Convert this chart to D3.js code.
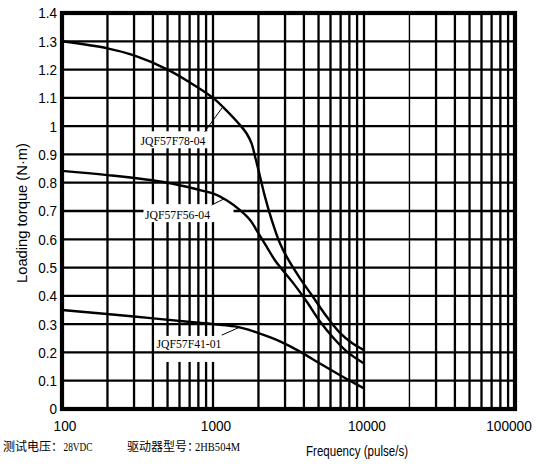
<!DOCTYPE html>
<html>
<head>
<meta charset="utf-8">
<script src="https://cdn.jsdelivr.net/npm/d3@7"></script>
<style>
  html, body { margin: 0; padding: 0; background: #fff; }
  svg { display: block; }
</style>
</head>
<body>
<script>
'use strict';

// axis ticks
var freqLabels = [100, 1000, 10000, 100000];
var torqueTicks = [0, 0.1, 0.2, 0.3, 0.4, 0.5, 0.6, 0.7, 0.8, 0.9, 1, 1.1, 1.2, 1.3, 1.4];

// series (pulse/s, N·m)
var seriesNames = ['JQF57F78-04', 'JQF57F56-04', 'JQF57F41-01'];

var f78Freq   = [100, 200, 300, 500, 700, 1000, 1230, 1510, 1670, 1800, 1900, 2000, 2210, 2450, 2780, 3100, 3770, 4600, 5690, 6930, 8330, 10000];
var f78Torque = [1.30, 1.275, 1.25, 1.20, 1.155, 1.10, 1.055, 1.004, 0.974, 0.939, 0.892, 0.845, 0.75, 0.668, 0.585, 0.535, 0.462, 0.396, 0.325, 0.269, 0.233, 0.208];

var f56Freq   = [100, 200, 500, 820, 1000, 1230, 1510, 1760, 2000, 2270, 2570, 2800, 3400, 4170, 5100, 6300, 7700, 10000];
var f56Torque = [0.842, 0.827, 0.80, 0.774, 0.762, 0.738, 0.703, 0.668, 0.621, 0.573, 0.526, 0.50, 0.445, 0.38, 0.31, 0.25, 0.203, 0.161];

var f41Freq   = [100, 300, 800, 1400, 1750, 2400, 2800, 3770, 5100, 6900, 10000];
var f41Torque = [0.35, 0.327, 0.305, 0.292, 0.279, 0.253, 0.238, 0.203, 0.161, 0.12, 0.073];

var width = 539, height = 470,
    padL = 62, padR = 515, padT = 13, padB = 409;

var x = d3.scaleLog().domain([100, 100000]).range([padL, padR]),
    y = d3.scaleLinear().domain([0, 1.4]).range([padB, padT]);

var sans = '"Liberation Sans", Arial, sans-serif',
    serif = '"Liberation Serif", "DejaVu Serif", serif',
    cjk = '"Noto Sans CJK SC", sans-serif';

var svg = d3.select('body').append('svg')
    .attr('width', width)
    .attr('height', height);

svg.append('rect').attr('width', width).attr('height', height).attr('fill', '#fff');

function zip( xs, ys ){
    return xs.map(function( v, i ){ return [v, ys[i]]; });
}

// squeeze text horizontally, the scan uses a narrow face
function condense( sel, ratio ){
    sel.each(function(){
        var w = this.getComputedTextLength();
        d3.select(this)
            .attr('textLength', w * ratio)
            .attr('lengthAdjust', 'spacingAndGlyphs');
    });
}

// label boxes; box is [dx, dy, w, h] in px around the text centre
var notes = [
    { name : seriesNames[0], at : [543, 0.95],  box : [-35, -9, 72, 17],  from : [880, 0.98],  to : [1150, 1.065], overH : false },
    { name : seriesNames[1], at : [582, 0.689], box : [-34, -10, 90, 18], from : [979, 0.721], to : [1175, 0.742], overH : true },
    { name : seriesNames[2], at : [693, 0.23],  box : [-34, -8, 70, 26],  from : [1143, 0.261], to : [1510, 0.29], overH : false }
];

function drawBoxes( list ){
    svg.append('g').selectAll('rect')
        .data(list)
        .enter().append('rect')
        .attr('x', function( d ){ return x(d.at[0]) + d.box[0]; })
        .attr('y', function( d ){ return y(d.at[1]) + d.box[1]; })
        .attr('width', function( d ){ return d.box[2]; })
        .attr('height', function( d ){ return d.box[3]; })
        .attr('fill', '#fff');
}

// vertical grid
var vTicks = x.ticks().filter(function( v ){ return v > 100 && v < 100000; });
svg.append('g').selectAll('line')
    .data(vTicks)
    .enter().append('line')
    .attr('x1', function( d ){ return x(d); })
    .attr('x2', function( d ){ return x(d); })
    .attr('y1', padT)
    .attr('y2', padB)
    .attr('stroke', '#000')
    .attr('stroke-width', function( d ){ return d === 20000 ? 1.4 : 2.3; });

drawBoxes(notes.filter(function( n ){ return !n.overH; }));

// horizontal grid
svg.append('g').selectAll('line')
    .data(torqueTicks.slice(1, -1))
    .enter().append('line')
    .attr('x1', padL)
    .attr('x2', padR)
    .attr('y1', function( d ){ return y(d); })
    .attr('y2', function( d ){ return y(d); })
    .attr('stroke', '#000')
    .attr('stroke-width', 2.3);

drawBoxes(notes.filter(function( n ){ return n.overH; }));

// curves
var line = d3.line()
    .x(function( d ){ return x(d[0]); })
    .y(function( d ){ return y(d[1]); })
    .curve(d3.curveCatmullRom.alpha(0.5));

svg.append('g').selectAll('path')
    .data([zip(f78Freq, f78Torque), zip(f56Freq, f56Torque), zip(f41Freq, f41Torque)])
    .enter().append('path')
    .attr('d', line)
    .attr('fill', 'none')
    .attr('stroke', '#000')
    .attr('stroke-width', 2.4)
    .attr('stroke-linejoin', 'round');

// frame
svg.append('rect')
    .attr('x', padL)
    .attr('y', padT)
    .attr('width', padR - padL)
    .attr('height', padB - padT)
    .attr('fill', 'none')
    .attr('stroke', '#000')
    .attr('stroke-width', 4.2);

// leaders and labels
var g = svg.append('g');
g.selectAll('line')
    .data(notes)
    .enter().append('line')
    .attr('x1', function( d ){ return x(d.from[0]); })
    .attr('y1', function( d ){ return y(d.from[1]); })
    .attr('x2', function( d ){ return x(d.to[0]); })
    .attr('y2', function( d ){ return y(d.to[1]); })
    .attr('stroke', '#000')
    .attr('stroke-width', 1);

g.selectAll('text')
    .data(notes)
    .enter().append('text')
    .attr('x', function( d ){ return x(d.at[0]); })
    .attr('y', function( d ){ return y(d.at[1]); })
    .attr('dy', '0.35em')
    .attr('text-anchor', 'middle')
    .attr('textLength', 65)
    .attr('lengthAdjust', 'spacingAndGlyphs')
    .style('font-family', serif)
    .style('font-size', '13px')
    .text(function( d ){ return d.name; });

// y tick labels
svg.append('g').selectAll('text')
    .data(torqueTicks)
    .enter().append('text')
    .attr('x', 57)
    .attr('y', function( d ){ return y(d); })
    .attr('dy', '0.36em')
    .attr('text-anchor', 'end')
    .style('font-family', sans)
    .style('font-size', '15px')
    .text(function( d ){ return String(+d.toFixed(1)); })
    .call(condense, 0.9);

// x tick labels
svg.append('g').selectAll('text')
    .data(freqLabels)
    .enter().append('text')
    .attr('x', function( d ){ return x(d) + (d === 100000 ? -6 : 3); })
    .attr('y', 431)
    .attr('text-anchor', 'middle')
    .style('font-family', sans)
    .style('font-size', '15.5px')
    .text(function( d ){ return String(d); })
    .call(condense, 0.88);

// axis titles
svg.append('text')
    .attr('x', 357)
    .attr('y', 456)
    .attr('text-anchor', 'middle')
    .attr('textLength', 102)
    .attr('lengthAdjust', 'spacingAndGlyphs')
    .style('font-family', sans)
    .style('font-size', '14px')
    .text('Frequency (pulse/s)');

svg.append('text')
    .attr('transform', 'translate(27,213) rotate(-90)')
    .attr('text-anchor', 'middle')
    .attr('textLength', 140)
    .attr('lengthAdjust', 'spacingAndGlyphs')
    .style('font-family', sans)
    .style('font-size', '15px')
    .text('Loading torque (N\u00b7m)');

// test conditions
function note( cx, lx, lw, cn, lt ){
    svg.append('text')
        .attr('x', cx).attr('y', 451)
        .style('font-family', cjk).style('font-size', '12px')
        .text(cn);
    svg.append('text')
        .attr('x', lx).attr('y', 451)
        .attr('textLength', lw)
        .attr('lengthAdjust', 'spacingAndGlyphs')
        .style('font-family', serif).style('font-size', '12px')
        .text(lt);
}

note(3, 63.5, 29, '测试电压：', '28VDC');
note(127, 195, 45, '驱动器型号：', '2HB504M');
</script>
</body>
</html>
